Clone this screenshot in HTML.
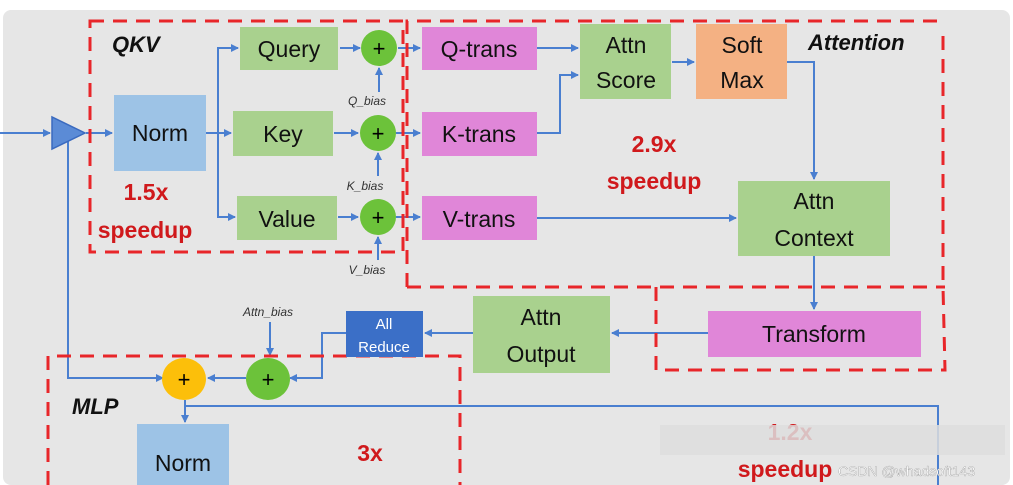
<!DOCTYPE html>
<html><head><style>
body{margin:0;background:#fff;}
svg{display:block;font-family:"Liberation Sans","DejaVu Sans",sans-serif;}
</style></head><body>
<svg width="1013" height="485" viewBox="0 0 1013 485">
<defs>
<marker id="a" markerWidth="8" markerHeight="8" refX="7" refY="4" orient="auto" markerUnits="userSpaceOnUse"><path d="M0,0 L8,4 L0,8 z" fill="#4a7fd0"/></marker>
</defs>
<rect x="3" y="10" width="1007" height="475" rx="8" fill="#e6e6e6"/>
<g stroke="#4a7fd0" stroke-width="2" fill="none">
<line x1="0" y1="133" x2="50" y2="133" marker-end="url(#a)"/>
<line x1="86" y1="133" x2="112" y2="133" marker-end="url(#a)"/>
<line x1="206" y1="133" x2="231" y2="133" marker-end="url(#a)"/>
<polyline points="218,133 218,48 238,48" marker-end="url(#a)"/>
<polyline points="218,133 218,217 235,217" marker-end="url(#a)"/>
<line x1="340" y1="48" x2="360" y2="48" marker-end="url(#a)"/>
<line x1="334" y1="133" x2="358" y2="133" marker-end="url(#a)"/>
<line x1="338" y1="217" x2="358" y2="217" marker-end="url(#a)"/>
<line x1="398" y1="48" x2="420" y2="48" marker-end="url(#a)"/>
<line x1="396" y1="133" x2="420" y2="133" marker-end="url(#a)"/>
<line x1="396" y1="217" x2="420" y2="217" marker-end="url(#a)"/>
<line x1="379" y1="92" x2="379" y2="68" marker-end="url(#a)"/>
<line x1="378" y1="176" x2="378" y2="153" marker-end="url(#a)"/>
<line x1="378" y1="260" x2="378" y2="237" marker-end="url(#a)"/>
<line x1="537" y1="48" x2="578" y2="48" marker-end="url(#a)"/>
<polyline points="537,133 560,133 560,75 578,75" marker-end="url(#a)"/>
<line x1="672" y1="62" x2="694" y2="62" marker-end="url(#a)"/>
<polyline points="787,62 814,62 814,179" marker-end="url(#a)"/>
<line x1="537" y1="218" x2="736" y2="218" marker-end="url(#a)"/>
<line x1="814" y1="256" x2="814" y2="309" marker-end="url(#a)"/>
<line x1="708" y1="333" x2="612" y2="333" marker-end="url(#a)"/>
<line x1="473" y1="333" x2="425" y2="333" marker-end="url(#a)"/>
<polyline points="346,333 322,333 322,378 290,378" marker-end="url(#a)"/>
<line x1="270" y1="322" x2="270" y2="355" marker-end="url(#a)"/>
<line x1="246" y1="378" x2="208" y2="378" marker-end="url(#a)"/>
<polyline points="68,140 68,378 163,378" marker-end="url(#a)"/>
<polyline points="185,400 185,406 938,406 938,485"/>
<line x1="185" y1="406" x2="185" y2="422" marker-end="url(#a)"/>
</g>
<polygon points="52,117 52,149 85,133" fill="#5b8bd6" stroke="#3a6abf" stroke-width="1.5"/>
<g stroke="#e8262a" stroke-width="3" fill="none" stroke-dasharray="14,9">
<rect x="90" y="21" width="313" height="231"/>
<polyline points="407,287 407,21 945,21"/>
<line x1="943" y1="36" x2="943" y2="287"/>
<line x1="407" y1="287" x2="945" y2="287"/>
<polyline points="656,287 656,370 945,370 943,287"/>
<polyline points="48,485 48,356 460,356 460,485"/>
</g>
<g font-size="23" text-anchor="middle" fill="#111">
<rect x="114" y="95" width="92" height="76" fill="#9dc3e6"/><text x="160" y="141">Norm</text>
<rect x="240" y="27" width="98" height="43" fill="#a9d18e"/><text x="289" y="57">Query</text>
<rect x="233" y="111" width="100" height="45" fill="#a9d18e"/><text x="283" y="142">Key</text>
<rect x="237" y="196" width="100" height="44" fill="#a9d18e"/><text x="287" y="227">Value</text>
<rect x="422" y="27" width="115" height="43" fill="#e086d8"/><text x="479" y="57">Q-trans</text>
<rect x="422" y="112" width="115" height="44" fill="#e086d8"/><text x="479" y="142">K-trans</text>
<rect x="422" y="196" width="115" height="44" fill="#e086d8"/><text x="479" y="227">V-trans</text>
<rect x="580" y="24" width="91" height="75" fill="#a9d18e"/><text x="626" y="53">Attn</text><text x="626" y="88">Score</text>
<rect x="696" y="24" width="91" height="75" fill="#f4b183"/><text x="742" y="53">Soft</text><text x="742" y="88">Max</text>
<rect x="738" y="181" width="152" height="75" fill="#a9d18e"/><text x="814" y="209">Attn</text><text x="814" y="246">Context</text>
<rect x="708" y="311" width="213" height="46" fill="#e086d8"/><text x="814" y="342">Transform</text>
<rect x="473" y="296" width="137" height="77" fill="#a9d18e"/><text x="541" y="325">Attn</text><text x="541" y="362">Output</text>
<rect x="346" y="311" width="77" height="46" fill="#3b6fc7"/>
<text x="384" y="329" font-size="15" fill="#fff">All</text><text x="384" y="352" font-size="15" fill="#fff">Reduce</text>
<rect x="137" y="424" width="92" height="61" fill="#9dc3e6"/><text x="183" y="471">Norm</text>
</g>
<g font-size="22" text-anchor="middle">
<circle cx="379" cy="48" r="18" fill="#6cc23a"/><text x="379" y="56">+</text>
<circle cx="378" cy="133" r="18" fill="#6cc23a"/><text x="378" y="141">+</text>
<circle cx="378" cy="217" r="18" fill="#6cc23a"/><text x="378" y="225">+</text>
<ellipse cx="268" cy="379" rx="22" ry="21" fill="#6cc23a"/><text x="268" y="387">+</text>
<ellipse cx="184" cy="379" rx="22" ry="21" fill="#fcbf0a"/><text x="184" y="387">+</text>
</g>
<g font-size="12" font-style="italic" fill="#333" text-anchor="middle">
<text x="367" y="105">Q_bias</text><text x="365" y="190">K_bias</text><text x="367" y="274">V_bias</text>
<text x="268" y="316">Attn_bias</text>
</g>
<g font-weight="bold" font-style="italic" font-size="22" fill="#111">
<text x="112" y="52">QKV</text><text x="808" y="50">Attention</text><text x="72" y="414">MLP</text>
</g>
<g font-weight="bold" font-size="23" fill="#d0191c" text-anchor="middle">
<text x="146" y="200">1.5x</text><text x="145" y="238">speedup</text>
<text x="654" y="152">2.9x</text><text x="654" y="189">speedup</text>
<text x="370" y="461">3x</text>
<text x="790" y="440">1.2x</text>
<text x="785" y="477">speedup</text>
</g>
<rect x="660" y="425" width="345" height="30" fill="#ddd" opacity="0.85"/>
<text x="838" y="476" font-size="14" fill="#fff" stroke="#888" stroke-width="0.3">CSDN @whadsoft143</text>
</svg>
</body></html>
